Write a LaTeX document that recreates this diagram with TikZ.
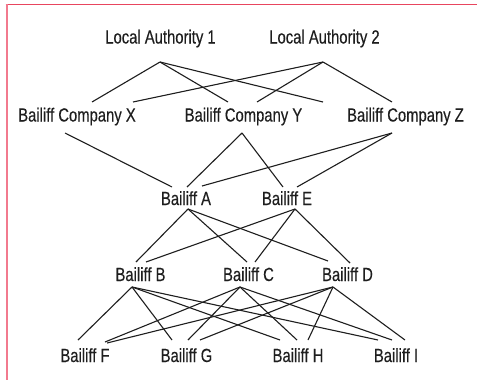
\documentclass[tikz,border=0pt]{standalone}
\usepackage{fontspec}
\setmainfont[FakeStretch=0.78,FakeBold=0.3]{Liberation Sans}
\usetikzlibrary{calc}
\definecolor{frametop}{HTML}{E8455E}
\definecolor{frameleft}{HTML}{F27A8E}
\definecolor{ink}{HTML}{1E1E1E}
\begin{document}
\begin{tikzpicture}[x=1pt,y=-1pt,
  lbl/.style={anchor=base,inner sep=0pt,text=ink,font=\fontsize{19}{22}\selectfont},
  link/.style={draw=ink,line width=1.1pt}]
\useasboundingbox (0,0) rectangle (477,380);
\fill[white] (0,0) rectangle (477,380);
\draw[frametop,line width=1.6pt] (5.5,4.5) -- (477,4.5);
\draw[frameleft,line width=2pt] (6.5,4) -- (6.5,380);
% nodes
\node[lbl] (la1) at (160.5,43.5) {Local Authority 1};
\node[lbl] (la2) at (324.5,43.5) {Local Authority 2};
\node[lbl] (cx) at (77,121.5) {Bailiff Company X};
\node[lbl] (cy) at (243.5,121.5) {Bailiff Company Y};
\node[lbl] (cz) at (405.5,121.5) {Bailiff Company Z};
\node[lbl] (ba) at (186,205) {Bailiff A};
\node[lbl] (be) at (287,205) {Bailiff E};
\node[lbl] (bb) at (140.5,281) {Bailiff B};
\node[lbl] (bc) at (248.5,281) {Bailiff C};
\node[lbl] (bd) at (347.5,281) {Bailiff D};
\node[lbl] (bf) at (85,362) {Bailiff F};
\node[lbl] (bg) at (186.5,362) {Bailiff G};
\node[lbl] (bh) at (298,362) {Bailiff H};
\node[lbl] (bi) at (396,362) {Bailiff I};
% authorities to companies
\draw[link] ($(la1.base)+(-0.5,18.5)$) -- ($(cx.base)+(15,-19.5)$);
\draw[link] ($(la1.base)+(-0.5,18.5)$) -- ($(cy.base)+(-15.5,-19.5)$);
\draw[link] ($(la1.base)+(-0.5,18.5)$) -- ($(cz.base)+(-82.5,-19.5)$);
\draw[link] ($(la2.base)+(-1.5,18.5)$) -- ($(cx.base)+(56,-19.5)$);
\draw[link] ($(la2.base)+(-1.5,18.5)$) -- ($(cy.base)+(13.5,-19.5)$);
\draw[link] ($(la2.base)+(-1.5,18.5)$) -- ($(cz.base)+(-13.5,-19.5)$);
% companies to A, E
\draw[link] ($(cx.base)+(-12,11.5)$) -- ($(ba.base)+(-14,-18)$);
\draw[link] ($(cy.base)+(-1.5,11.5)$) -- ($(ba.base)+(1,-18)$);
\draw[link] ($(cy.base)+(-1.5,11.5)$) -- ($(be.base)+(-4,-18)$);
\draw[link] ($(cz.base)+(-13.5,11.5)$) -- ($(ba.base)+(16,-19)$);
\draw[link] ($(cz.base)+(-13.5,11.5)$) -- ($(be.base)+(10,-18)$);
% A, E to B, C, D
\draw[link] ($(ba.base)+(2,4)$) -- ($(bb.base)+(-4.5,-19)$);
\draw[link] ($(ba.base)+(2,4)$) -- ($(bc.base)+(-1.5,-19)$);
\draw[link] ($(ba.base)+(2,4)$) -- ($(bd.base)+(-19.5,-20)$);
\draw[link] ($(be.base)+(8,4)$) -- ($(bb.base)+(5.5,-19)$);
\draw[link] ($(be.base)+(8,4)$) -- ($(bc.base)+(6.5,-19)$);
\draw[link] ($(be.base)+(8,4)$) -- ($(bd.base)+(2.5,-18)$);
% B, C, D to F, G, H, I
\draw[link] ($(bb.base)+(-8.5,6)$) -- ($(bf.base)+(-7,-22)$);
\draw[link] ($(bb.base)+(-8.5,6)$) -- ($(bg.base)+(-14.5,-22)$);
\draw[link] ($(bb.base)+(-8.5,6)$) -- ($(bh.base)+(-18,-22)$);
\draw[link] ($(bb.base)+(-8.5,6)$) -- ($(bi.base)+(-18,-22)$);
\draw[link] ($(bc.base)+(-8.5,6)$) -- ($(bf.base)+(20,-20)$);
\draw[link] ($(bc.base)+(-8.5,6)$) -- ($(bg.base)+(1.5,-22)$);
\draw[link] ($(bc.base)+(-8.5,6)$) -- ($(bh.base)+(-1,-22)$);
\draw[link] ($(bc.base)+(-8.5,6)$) -- ($(bi.base)+(-4,-22)$);
\draw[link] ($(bd.base)+(-14.5,6)$) -- ($(bf.base)+(22,-19)$);
\draw[link] ($(bd.base)+(-14.5,6)$) -- ($(bg.base)+(13.5,-22)$);
\draw[link] ($(bd.base)+(-14.5,6)$) -- ($(bh.base)+(10,-22)$);
\draw[link] ($(bd.base)+(-14.5,6)$) -- ($(bi.base)+(9,-22)$);
\end{tikzpicture}
\end{document}
